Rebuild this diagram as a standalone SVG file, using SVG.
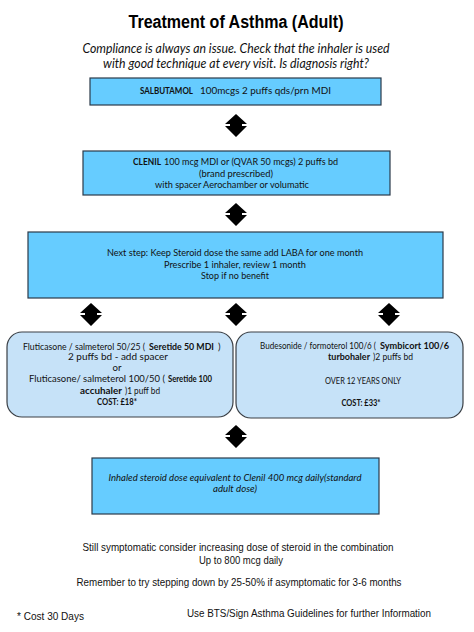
<svg xmlns="http://www.w3.org/2000/svg" xmlns:xlink="http://www.w3.org/1999/xlink" width="474" height="632" viewBox="0 0 474 632">
<style>
.box{fill:#66CCFF;stroke:#2b3a4a;stroke-width:1.2}
.rbox{fill:#C6E2F8;stroke:#3a3f45;stroke-width:1.2}
.t{font-family:Lato,"Open Sans","Liberation Sans",sans-serif;font-size:9.6px;fill:#111;text-anchor:middle}
.s{font-family:Lato,"Open Sans","Liberation Sans",sans-serif;font-size:9.6px;fill:#111;text-anchor:start}
.b{font-weight:bold}
.i{font-style:italic}
.a{font-family:"Liberation Sans",Arial,sans-serif;font-size:10.5px;fill:#111}
.arr{fill:#000}
</style>
<defs>
<polygon id="dbl" points="0,0 11,10 6,10 6,12 11,12 0,23 -11,12 -6,12 -6,10 -11,10"/>
</defs>
<rect width="474" height="632" fill="#fff"/>
<text x="236" y="28" font-family="'Liberation Sans',Arial,sans-serif" font-weight="bold" font-size="18" fill="#000" text-anchor="middle" textLength="215" lengthAdjust="spacingAndGlyphs">Treatment of Asthma (Adult)</text>
<text class="t i" x="236" y="53" style="font-size:12.5px" textLength="307" lengthAdjust="spacingAndGlyphs">Compliance is always an issue.  Check that the inhaler is used</text>
<text class="t i" x="236" y="68" style="font-size:12.5px" textLength="266" lengthAdjust="spacingAndGlyphs">with good technique at every visit. Is diagnosis right?</text>

<g id="connectors" class="arr">
<use xlink:href="#dbl" x="236" y="114"/>
<use xlink:href="#dbl" x="236" y="203"/>
<use xlink:href="#dbl" x="91" y="303"/>
<use xlink:href="#dbl" x="236" y="303"/>
<use xlink:href="#dbl" x="389" y="303"/>
<use xlink:href="#dbl" x="236" y="425"/>
</g>

<g id="salbutamol">
<rect class="box" x="90" y="78" width="291" height="27"/>
<text class="s b" x="140" y="94" textLength="53" lengthAdjust="spacingAndGlyphs">SALBUTAMOL</text>
<text class="s" x="200" y="94" textLength="131" lengthAdjust="spacingAndGlyphs">100mcgs  2 puffs qds/prn MDI</text>
</g>

<g id="clenil">
<rect class="box" x="83" y="151" width="307" height="44"/>
<text class="s b" x="133" y="165" textLength="28" lengthAdjust="spacingAndGlyphs">CLENIL</text>
<text class="s" x="164" y="165" textLength="174" lengthAdjust="spacingAndGlyphs">100 mcg MDI or (QVAR 50 mcgs) 2 puffs bd</text>
<text class="t" x="236" y="177" textLength="74" lengthAdjust="spacingAndGlyphs">(brand prescribed)</text>
<text class="t" x="232" y="188" textLength="154" lengthAdjust="spacingAndGlyphs">with spacer Aerochamber or volumatic</text>
</g>

<g id="laba">
<rect class="box" x="28" y="232" width="415" height="66"/>
<text class="t" x="235" y="256" textLength="256" lengthAdjust="spacingAndGlyphs">Next step:  Keep Steroid dose the same add LABA for one month</text>
<text class="t" x="235" y="268" textLength="142" lengthAdjust="spacingAndGlyphs">Prescribe 1 inhaler, review 1 month</text>
<text class="t" x="235" y="279" textLength="68" lengthAdjust="spacingAndGlyphs">Stop if no benefit</text>
</g>

<g id="seretide">
<rect class="rbox" x="7" y="332" width="226" height="85" rx="15" ry="15"/>
<text class="s" x="23" y="350" textLength="122" lengthAdjust="spacingAndGlyphs">Fluticasone / salmeterol 50/25 (</text>
<text class="s b" x="149" y="350" textLength="65" lengthAdjust="spacingAndGlyphs">Seretide 50 MDI</text>
<text class="s" x="218" y="350">)</text>
<text class="t" x="118" y="360" textLength="100" lengthAdjust="spacingAndGlyphs">2 puffs bd  - add spacer</text>
<text class="t" x="117" y="371">or</text>
<text class="s" x="29" y="382" textLength="136" lengthAdjust="spacingAndGlyphs">Fluticasone/ salmeterol 100/50 (</text>
<text class="s b" x="168" y="382" textLength="44" lengthAdjust="spacingAndGlyphs">Seretide 100</text>
<text class="s b" x="80" y="394" textLength="42" lengthAdjust="spacingAndGlyphs">accuhaler</text>
<text class="s" x="125" y="394" textLength="35" lengthAdjust="spacingAndGlyphs">)1 puff bd</text>
<text class="t b" x="117" y="405" textLength="40" lengthAdjust="spacingAndGlyphs">COST: £18*</text>
</g>

<g id="symbicort">
<rect class="rbox" x="236" y="332" width="227" height="86" rx="15" ry="15"/>
<text class="s" x="260" y="349" textLength="116" lengthAdjust="spacingAndGlyphs">Budesonide / formoterol 100/6 (</text>
<text class="s b" x="380" y="349" textLength="69" lengthAdjust="spacingAndGlyphs">Symbicort 100/6</text>
<text class="s b" x="328" y="360" textLength="42" lengthAdjust="spacingAndGlyphs">turbohaler</text>
<text class="s" x="373" y="360" textLength="40" lengthAdjust="spacingAndGlyphs">)2 puffs bd</text>
<text class="t" x="363" y="384" textLength="76" lengthAdjust="spacingAndGlyphs">OVER 12 YEARS ONLY</text>
<text class="t b" x="361" y="406" textLength="39" lengthAdjust="spacingAndGlyphs">COST: £33*</text>
</g>

<g id="standard-dose">
<rect class="box" x="92" y="458" width="287" height="56"/>
<text class="t i" x="235" y="481" textLength="253" lengthAdjust="spacingAndGlyphs">Inhaled steroid dose equivalent to Clenil 400 mcg daily(standard</text>
<text class="t i" x="235" y="492" textLength="44" lengthAdjust="spacingAndGlyphs">adult dose)</text>
</g>

<g id="notes">
<text class="a" x="238" y="551" text-anchor="middle" textLength="311" lengthAdjust="spacingAndGlyphs">Still symptomatic consider increasing dose of steroid in the combination</text>
<text class="a" x="241" y="564" text-anchor="middle" textLength="84" lengthAdjust="spacingAndGlyphs">Up to 800 mcg daily</text>
<text class="a" x="239" y="586" text-anchor="middle" textLength="325" lengthAdjust="spacingAndGlyphs">Remember to try stepping down by 25-50% if asymptomatic for 3-6 months</text>
<text class="a" x="17" y="620" textLength="67" lengthAdjust="spacingAndGlyphs">* Cost 30 Days</text>
<text class="a" x="187" y="617" textLength="244" lengthAdjust="spacingAndGlyphs">Use BTS/Sign Asthma Guidelines for further Information</text>
</g>
</svg>
